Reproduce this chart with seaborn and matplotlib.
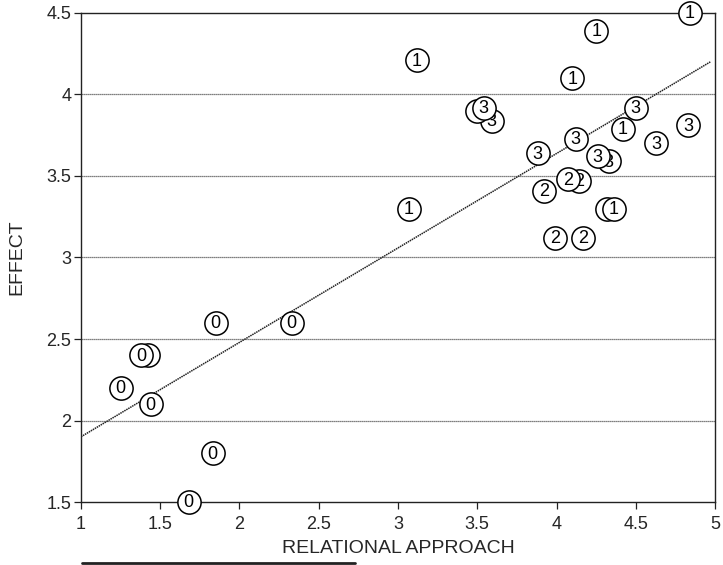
import matplotlib
matplotlib.use("Agg")
import matplotlib.pyplot as plt
from matplotlib.lines import Line2D
import pandas as pd
import seaborn as sns

sns.set_style("white")
plt.rcParams["font.family"] = ["Liberation Sans", "DejaVu Sans"]

# Observations: relational approach score, effect score, group code shown in the marker.
# Listed in drawing order (later points sit on top of earlier ones).
approach = [1.85, 2.33, 1.42, 1.38, 1.25, 1.44, 1.83, 1.68,
            4.84, 4.25, 3.12, 4.10, 4.42, 3.07, 4.32, 4.36,
            3.92, 4.14, 4.07, 3.99, 4.17,
            3.59, 3.50, 3.54, 4.50, 4.83, 4.63, 4.12, 3.88, 4.33, 4.26]
effect = [2.60, 2.60, 2.40, 2.40, 2.20, 2.10, 1.80, 1.50,
          4.50, 4.39, 4.21, 4.10, 3.79, 3.30, 3.30, 3.30,
          3.41, 3.47, 3.48, 3.12, 3.12,
          3.84, 3.90, 3.92, 3.92, 3.81, 3.70, 3.73, 3.64, 3.59, 3.62]
group = ["0", "0", "0", "0", "0", "0", "0", "0",
         "1", "1", "1", "1", "1", "1", "1", "1",
         "2", "2", "2", "2", "2",
         "3", "3", "3", "3", "3", "3", "3", "3", "3", "3"]

# fitted trend line end points
fit_x = [1.0, 4.97]
fit_y = [1.90, 4.20]

x_ticks = [1, 1.5, 2, 2.5, 3, 3.5, 4, 4.5, 5]
y_ticks = [1.5, 2, 2.5, 3, 3.5, 4, 4.5]

df = pd.DataFrame({"approach": approach, "effect": effect, "group": group})
fit = pd.DataFrame({"approach": fit_x, "effect": fit_y})

fig = plt.figure(figsize=(7.23, 5.65), dpi=100)
ax = fig.add_axes([0.112, 0.1115, 0.877, 0.8655])

# horizontal reference lines
for yv in y_ticks[1:-1]:
    ax.axhline(yv, color="#555555", lw=0.9, ls=(0, (1, 0.6)), zorder=1)

# trend line
sns.lineplot(data=fit, x="approach", y="effect", ax=ax, color="#222222",
             lw=1.1, ls=(0, (1, 0.5)), zorder=2)

# circled group codes
for i, row in df.iterrows():
    z = 3 + 2 * i
    sns.scatterplot(x=[row.approach], y=[row.effect], ax=ax, s=280,
                    color="white", edgecolor="black", linewidth=1.1,
                    zorder=z, clip_on=False, legend=False)
    ax.text(row.approach, row.effect - 0.006, row.group, ha="center", va="center",
            fontsize=13, color="black", zorder=z + 1, clip_on=False)

ax.set_xlim(1, 5)
ax.set_ylim(1.5, 4.5)

for side in ["top", "right", "left", "bottom"]:
    ax.spines[side].set_visible(True)
    ax.spines[side].set_color("#222222")
    ax.spines[side].set_linewidth(1.0)

ax.set_xticks(x_ticks)
ax.set_xticklabels([f"{v:g}" for v in x_ticks])
ax.set_yticks(y_ticks)
ax.set_yticklabels([f"{v:g}" for v in y_ticks])
ax.tick_params(axis="both", which="both", direction="out", length=5, width=0.9,
               color="#222222", labelsize=13, pad=2,
               bottom=True, left=True, top=False, right=False)
ax.tick_params(axis="x", pad=5)
ax.set_xlabel("RELATIONAL APPROACH", fontsize=14, labelpad=5)
ax.set_ylabel("EFFECT", fontsize=14, labelpad=15)

# underline rule beneath the axis title
fig.add_artist(Line2D([82 / 723, 355 / 723], [2.5 / 565, 2.5 / 565],
                      transform=fig.transFigure, color="#222222", lw=2.0))

fig.savefig("out.png", dpi=100)
